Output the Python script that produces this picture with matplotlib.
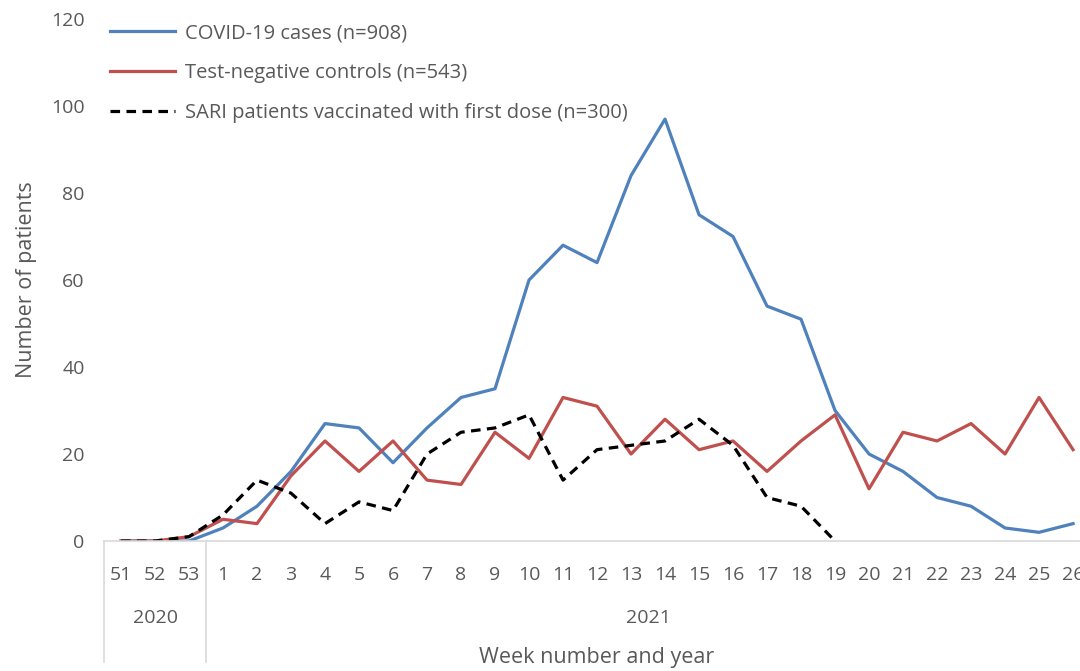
import matplotlib.pyplot as plt
import matplotlib.transforms as mtransforms

weeks = ["51", "52", "53"] + [str(i) for i in range(1, 27)]
years = ["2020", "2021"]
year_sizes = [3, 26]

covid_cases = [0, 0, 0, 3, 8, 16, 27, 26, 18, 26, 33, 35, 60, 68, 64, 84, 97,
               75, 70, 54, 51, 30, 20, 16, 10, 8, 3, 2, 4]
test_negative = [0, 0, 1, 5, 4, 15, 23, 16, 23, 14, 13, 25, 19, 33, 31, 20, 28,
                 21, 23, 16, 23, 29, 12, 25, 23, 27, 20, 33, 21]
sari_vaccinated = [0, 0, 1, 6, 14, 11, 4, 9, 7, 20, 25, 26, 29, 14, 21, 22, 23,
                   28, 22, 10, 8, 0]


def main():
    plt.rcParams['font.family'] = ['Open Sans', 'DejaVu Sans']
    grey = "#595959"

    fig = plt.figure(figsize=(10.8, 6.71), dpi=100)
    ax = fig.add_axes([0.0963, 0.1937, 0.913, 0.778])

    x = list(range(len(weeks)))
    ax.plot(x, covid_cases, color="#4F81BD", lw=2.3,
            label="COVID-19 cases (n=908)")
    ax.plot(x, test_negative, color="#C0504D", lw=2.3,
            label="Test-negative controls (n=543)")
    ax.plot(x[:len(sari_vaccinated)], sari_vaccinated, color="black", lw=2.3,
            ls=(0, (3, 2)),
            label="SARI patients vaccinated with first dose (n=300)")

    ax.set_xlim(-0.5, len(weeks) - 0.5)
    ax.set_ylim(0, 120)
    ax.set_yticks(range(0, 121, 20))
    ax.set_xticks(x)
    ax.set_xticklabels(weeks)
    ax.tick_params(axis="both", length=0, labelsize=14, colors=grey)
    ax.tick_params(axis="x", pad=18)
    ax.tick_params(axis="y", pad=14)

    for s in ["top", "right", "left"]:
        ax.spines[s].set_visible(False)
    ax.spines["bottom"].set_color("#D9D9D9")
    ax.spines["bottom"].set_linewidth(1.2)

    # year grouping below the week labels
    trans = mtransforms.blended_transform_factory(ax.transData, ax.transAxes)
    start = 0
    for year, n in zip(years, year_sizes):
        ax.plot([start - 0.5, start - 0.5], [0, -0.232], transform=trans,
                color="#D9D9D9", lw=1.2, clip_on=False)
        ax.text(start + (n - 1) / 2, -0.148, year, transform=trans,
                ha="center", va="center", fontsize=14, color=grey)
        start += n

    ax.set_xlabel("Week number and year", fontsize=15.5, color=grey, labelpad=45)
    ax.set_ylabel("Number of patients", fontsize=15.5, color=grey, labelpad=10)

    leg = ax.legend(loc="upper left", bbox_to_anchor=(-0.012, 1.027), frameon=False,
                    fontsize=14.5, handlelength=3.2, labelspacing=1.0,
                    handletextpad=0.5)
    for t in leg.get_texts():
        t.set_color(grey)

    fig.savefig("out.png", dpi=100)


if __name__ == "__main__":
    main()
